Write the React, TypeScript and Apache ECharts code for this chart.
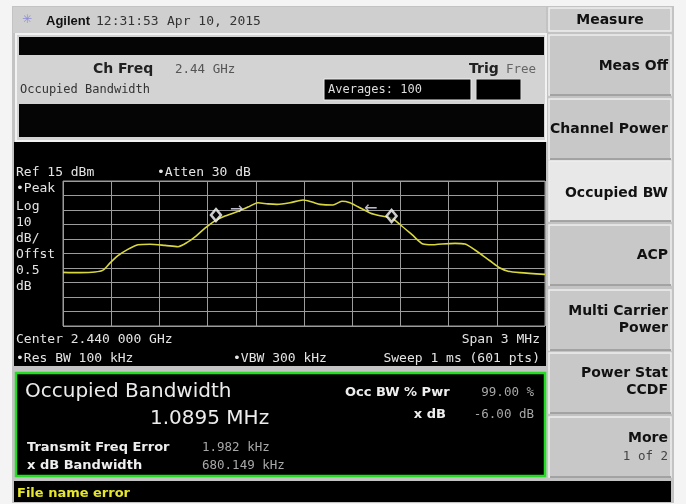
import React, { useEffect, useRef } from "react";
import * as echarts from "echarts";

// Frequency offset from centre (kHz), span 3 MHz around 2.440 GHz
const freqOffsetsKHz = [
  -1500, -1394, -1301, -1251, -1207, -1158, -1102, -1033, -959, -865, -784, -722, -672,
  -616, -554, -492, -417, -349, -286, -224, -168, -87, -6, 50, 100, 180, 236, 286, 336,
  411, 473, 548, 597, 672, 741, 797, 859, 940, 1002, 1064, 1157, 1220, 1270, 1344, 1500,
];
// Trace amplitude (dBm)
const traceDbm = [
  -48.0, -48.2, -47.8, -46.5, -41.5, -36.5, -32.5, -29.0, -28.6, -29.4, -30.3, -27.0, -23.0,
  -17.5, -12.5, -9.2, -6.2, -3.0, 0.0, -0.8, -1.1, 0.0, 1.9, 0.5, -1.1, -1.6, 1.0, 0.0, -2.8,
  -7.0, -9.0, -10.7, -15.0, -22.0, -28.5, -29.0, -28.4, -28.0, -28.5, -32.6, -40.0, -45.0,
  -47.2, -48.2, -49.4,
];
// Occupied bandwidth markers
const markerFreqKHz = [-548, 545];
const markerDbm = [-8.5, -9.1];
const markerArrows = ["→", "←"];

const refLevelDbm = 15;
const dbPerDiv = 10;
const divisions = 10;
const spanKHz = 3000;

const softkeyTitle = "Measure";
const softkeyLabels = [
  ["Meas Off"],
  ["Channel Power"],
  ["Occupied BW"],
  ["ACP"],
  ["Multi Carrier", "Power"],
  ["Power Stat", "CCDF"],
  ["More"],
];
const selectedSoftkey = 2;

const MONO = "'DejaVu Sans Mono', monospace";
const SANS = "'DejaVu Sans', sans-serif";

function txt(text: string, x: number, y: number, o: any = {}) {
  return {
    type: "text",
    z: 20,
    x,
    y,
    style: {
      text,
      fill: o.fill ?? "#e4e4e4",
      fontSize: o.size ?? 13,
      fontFamily: o.family ?? MONO,
      fontWeight: o.weight ?? "normal",
      align: o.align ?? "left",
      verticalAlign: "middle",
    },
  };
}

function rect(x: number, y: number, w: number, h: number, fill: string, o: any = {}) {
  return {
    type: "rect",
    z: o.z ?? -10,
    shape: { x, y, width: w, height: h },
    style: { fill, stroke: o.stroke ?? null, lineWidth: o.lw ?? 0 },
  };
}

export default function App() {
  const ref = useRef<HTMLDivElement>(null);
  useEffect(() => {
    document.body.style.margin = "0";
    const chart = echarts.init(ref.current!, null, { renderer: "svg" });

    const bg: any[] = [
      rect(0, 0, 686, 504, "#f4f4f4", { z: -30 }),
      rect(12, 6, 662, 497, "#c3c3c3", { z: -29 }),
      rect(13, 7, 533, 26, "#cfcfcf", { z: -28 }),
      rect(16, 34, 530, 107, "#d3d3d3", { z: -28, stroke: "#f2f2f2", lw: 2 }),
      rect(19, 37, 525, 18, "#050505", { z: -27 }),
      rect(19, 104, 525, 33, "#050505", { z: -27 }),
      rect(324, 79, 147, 21, "#000", { z: -27, stroke: "#eeeeee", lw: 1 }),
      rect(476, 79, 45, 21, "#000", { z: -27, stroke: "#dddddd", lw: 1 }),
      rect(14, 142, 532, 224, "#000", { z: -28 }),
      rect(16, 373, 529, 103, "#000", { z: -28, stroke: "#22dd22", lw: 2.5 }),
      rect(14, 481, 657, 21, "#000", { z: -28 }),
      rect(549, 8, 122, 23, "#cbcbcb", { z: -28, stroke: "#efefef", lw: 1.5 }),
    ];

    const keyTops = [35, 99, 161, 225, 290, 353, 417];
    const keyH = 60;
    softkeyLabels.forEach((_, i) => {
      const top = keyTops[i];
      bg.push(
        rect(549, top, 122, keyH, i === selectedSoftkey ? "#e8e8e8" : "#c8c8c8", {
          z: -27,
          stroke: "#eeeeee",
          lw: 1.5,
        })
      );
      bg.push({
        type: "line",
        z: -26,
        shape: { x1: 550, y1: top + keyH, x2: 671, y2: top + keyH },
        style: { stroke: "#8c8c8c", lineWidth: 1.5 },
      });
    });

    const keyTextY = [[65], [128], [192], [254], [310, 327], [372, 389], [437]];
    const texts: any[] = [];
    texts.push(txt(softkeyTitle, 610, 19, { family: SANS, weight: "bold", size: 14, fill: "#111", align: "center" }));
    softkeyLabels.forEach((lines, i) => {
      lines.forEach((l, j) => {
        texts.push(txt(l, 668, keyTextY[i][j], { family: SANS, weight: "bold", size: 14, fill: "#111", align: "right" }));
      });
    });
    texts.push(txt("1 of 2", 668, 455, { size: 12.5, fill: "#444", align: "right" }));

    // title bar
    texts.push(txt("✳", 22, 19, { family: SANS, size: 12, fill: "#8c8cdc" }));
    texts.push(txt("Agilent", 46, 20, { family: "'Liberation Sans', Arial, sans-serif", weight: "bold", size: 13, fill: "#111" }));
    texts.push(txt("12:31:53", 96, 20, { size: 13, fill: "#333" }));
    texts.push(txt("Apr 10, 2015", 167, 20, { size: 13, fill: "#333" }));

    // header row
    texts.push(txt("Ch Freq", 93, 68, { family: SANS, weight: "bold", size: 14, fill: "#222" }));
    texts.push(txt("2.44 GHz", 175, 68, { size: 12.5, fill: "#555" }));
    texts.push(txt("Trig", 469, 68, { family: SANS, weight: "bold", size: 14, fill: "#222" }));
    texts.push(txt("Free", 506, 68, { size: 12.5, fill: "#666" }));
    texts.push(txt("Occupied Bandwidth", 20, 89, { size: 12, fill: "#333" }));
    texts.push(txt("Averages: 100", 328, 89, { size: 12, fill: "#dddddd" }));

    // graticule annotations
    texts.push(txt(`Ref ${refLevelDbm} dBm`, 16, 171));
    texts.push(txt("•Atten 30 dB", 157, 171));
    texts.push(txt("•Peak", 16, 187));
    ["Log", `${dbPerDiv}`, "dB/", "Offst", "0.5", "dB"].forEach((s, i) => texts.push(txt(s, 16, 205 + i * 16)));
    texts.push(txt("Center 2.440 000 GHz", 16, 338));
    texts.push(txt(`Span ${spanKHz / 1000} MHz`, 540, 338, { align: "right" }));
    texts.push(txt("•Res BW 100 kHz", 16, 357));
    texts.push(txt("•VBW 300 kHz", 233, 357));
    texts.push(txt("Sweep 1 ms (601 pts)", 540, 357, { align: "right" }));

    // result box
    texts.push(txt("Occupied Bandwidth", 25, 390, { family: SANS, size: 20, fill: "#ececec" }));
    texts.push(txt("1.0895 MHz", 150, 417, { family: SANS, size: 20, fill: "#ececec" }));
    texts.push(txt("Transmit Freq Error", 27, 446, { family: SANS, weight: "bold", size: 13, fill: "#eeeeee" }));
    texts.push(txt("1.982 kHz", 202, 446, { size: 12.5, fill: "#a8a8a8" }));
    texts.push(txt("x dB Bandwidth", 27, 464, { family: SANS, weight: "bold", size: 13, fill: "#eeeeee" }));
    texts.push(txt("680.149 kHz", 202, 464, { size: 12.5, fill: "#a8a8a8" }));
    texts.push(txt("Occ BW % Pwr", 345, 391, { family: SANS, weight: "bold", size: 13, fill: "#eeeeee" }));
    texts.push(txt("99.00 %", 534, 391, { size: 12.5, fill: "#a8a8a8", align: "right" }));
    texts.push(txt("x dB", 446, 413, { family: SANS, weight: "bold", size: 13, fill: "#eeeeee", align: "right" }));
    texts.push(txt("-6.00 dB", 534, 413, { size: 12.5, fill: "#a8a8a8", align: "right" }));

    // status bar
    texts.push(txt("File name error", 17, 492, { family: SANS, weight: "bold", size: 13, fill: "#e6e62c" }));

    const gridColor = "#9c9c9c";
    chart.setOption({
      animation: false,
      backgroundColor: "transparent",
      grid: {
        left: 63,
        top: 181,
        width: 482,
        height: 145,
        show: true,
        borderColor: gridColor,
        borderWidth: 1,
        backgroundColor: "transparent",
        containLabel: false,
      },
      xAxis: {
        type: "value",
        min: -spanKHz / 2,
        max: spanKHz / 2,
        interval: spanKHz / divisions,
        axisLabel: { show: false },
        axisLine: { show: false },
        axisTick: { show: false },
        splitLine: { show: true, lineStyle: { color: gridColor, width: 1 } },
      },
      yAxis: [
        {
          type: "value",
          min: refLevelDbm - dbPerDiv * divisions,
          max: refLevelDbm,
          axisLabel: { show: false },
          axisLine: { show: false },
          axisTick: { show: false },
          splitLine: { show: false },
        },
        {
          type: "value",
          min: 0,
          max: divisions,
          interval: 1,
          position: "left",
          axisLabel: { show: false },
          axisLine: { show: false },
          axisTick: { show: false },
          splitLine: { show: true, lineStyle: { color: gridColor, width: 1 } },
        },
      ],
      series: [
        {
          type: "line",
          yAxisIndex: 0,
          data: freqOffsetsKHz.map((f, i) => [f, traceDbm[i]]),
          symbol: "none",
          smooth: 0.25,
          lineStyle: { color: "#d8d83e", width: 1.6 },
          z: 5,
        },
        {
          type: "scatter",
          yAxisIndex: 0,
          symbol: "diamond",
          symbolSize: [10, 12],
          itemStyle: { color: "#000", borderColor: "#ffffff", borderWidth: 2.5 },
          z: 6,
          data: markerFreqKHz.map((f, i) => ({
            value: [f, markerDbm[i]],
            label: {
              show: true,
              formatter: markerArrows[i],
              position: i === 0 ? "right" : "left",
              offset: i === 0 ? [3, -7] : [-3, -8],
              color: "#e8e8ff",
              fontSize: 16,
              fontFamily: SANS,
            },
          })),
        },
      ],
      graphic: { elements: [...bg, ...texts] },
    });
    return () => chart.dispose();
  }, []);
  return <div ref={ref} style={{ position: "fixed", left: 0, top: 0, width: 686, height: 504 }} />;
}
